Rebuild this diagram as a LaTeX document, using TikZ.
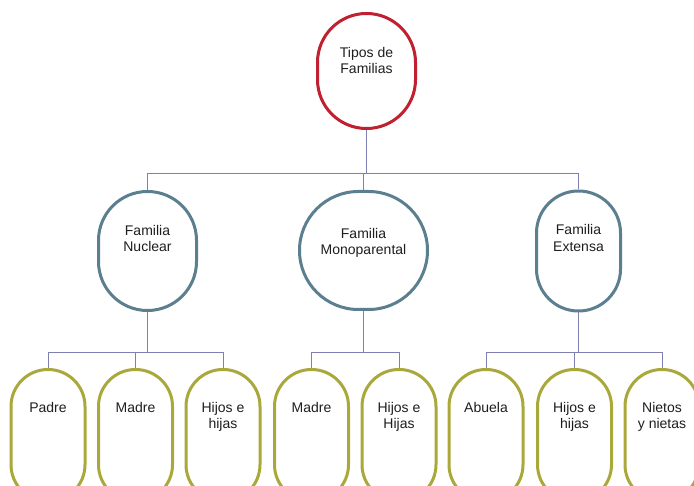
\documentclass[tikz,border=0pt]{standalone}
\usepackage{fontspec}
\setmainfont{Liberation Sans}
\definecolor{crim}{HTML}{C0202F}
\definecolor{steel}{HTML}{5B7F8F}
\definecolor{olive}{HTML}{A9A83B}
\definecolor{conncol}{HTML}{7F7FB2}
\definecolor{txtcol}{HTML}{1E1E1E}
\begin{document}
\begin{tikzpicture}[x=1pt,y=-1pt,
  box/.style={draw, line width=3pt, fill=white, inner sep=0pt, outer sep=1.5pt},
  lvlzero/.style={box, draw=crim, rounded corners=48.9pt, minimum width=98pt, minimum height=115pt},
  lvlone/.style={box, draw=steel},
  lvltwo/.style={box, draw=olive, rounded corners=36.9pt, minimum width=74pt, minimum height=132pt},
  txt/.style={anchor=north, inner sep=0pt, align=center, text=txtcol, font=\fontsize{14pt}{16.5pt}\selectfont},
  conn/.style={draw=conncol, line width=1pt}]
\useasboundingbox (0,0) rectangle (694,486);
\clip (0,0) rectangle (694,486);
\fill[white] (0,0) rectangle (694,486);

% connectors
\coordinate (b0) at (366.5,174);
\coordinate (b1) at (147.5,353);
\coordinate (b2) at (363.5,353);
\coordinate (b3) at (578.5,353);

% level 0
\node[lvlzero] (top) at (366.5,71) {};
% level 1
\node[lvlone, rounded corners=48.9pt, minimum width=98pt, minimum height=119pt] (nuc) at (147.5,251) {};
\node[lvlone, rounded corners=58.9pt, minimum width=128pt, minimum height=118pt] (mono) at (363.5,250.5) {};
\node[lvlone, rounded corners=41.9pt, minimum width=84pt, minimum height=120pt] (ext) at (578.5,251) {};
% level 2
\node[lvltwo] (padre) at (48,435.5) {};
\node[lvltwo] (madre) at (135.5,435.5) {};
\node[lvltwo] (hijos) at (223,435.5) {};
\node[lvltwo] (madreb) at (311.5,435.5) {};
\node[lvltwo] (hijosb) at (399,435.5) {};
\node[lvltwo] (abuela) at (486,435.5) {};
\node[lvltwo] (hijosc) at (574.5,435.5) {};
\node[lvltwo] (nietos) at (662,435.5) {};

\draw[conn] (top.south) -- (b0);
\draw[conn] (b0) -| (nuc.north);
\draw[conn] (b0) -| (mono.north);
\draw[conn] (b0) -| (ext.north);

\draw[conn] (nuc.south) -- (b1);
\draw[conn] (b1) -| (padre.north);
\draw[conn] (b1) -| (madre.north);
\draw[conn] (b1) -| (hijos.north);

\draw[conn] (mono.south) -- (b2);
\draw[conn] (b2) -| (madreb.north);
\draw[conn] (b2) -| (hijosb.north);

\draw[conn] (ext.south) -- (b3);
\draw[conn] (b3) -| (abuela.north);
\draw[conn] (b3) -| (hijosc.north);
\draw[conn] (b3) -| (nietos.north);

% texts
\node[txt] (ttop) at ([yshift=-35pt]top.north) {Tipos de\\Familias};
\node[txt] (tnuc) at ([yshift=-35pt]nuc.north) {Familia\\Nuclear};
\node[txt] (tmono) at ([yshift=-38pt]mono.north) {Familia\\Monoparental};
\node[txt] (text) at ([yshift=-35pt]ext.north) {Familia\\Extensa};
\node[txt] (tpadre) at ([yshift=-34pt]padre.north) {Padre};
\node[txt] (tmadre) at ([yshift=-34pt]madre.north) {Madre};
\node[txt] (thijos) at ([yshift=-34pt]hijos.north) {Hijos e\\hijas};
\node[txt] (tmadreb) at ([yshift=-34pt]madreb.north) {Madre};
\node[txt] (thijosb) at ([yshift=-34pt]hijosb.north) {Hijos e\\Hijas};
\node[txt] (tabuela) at ([yshift=-34pt]abuela.north) {Abuela};
\node[txt] (thijosc) at ([yshift=-34pt]hijosc.north) {Hijos e\\hijas};
\node[txt] (tnietos) at ([yshift=-34pt]nietos.north) {Nietos\\y nietas};
\end{tikzpicture}
\end{document}
